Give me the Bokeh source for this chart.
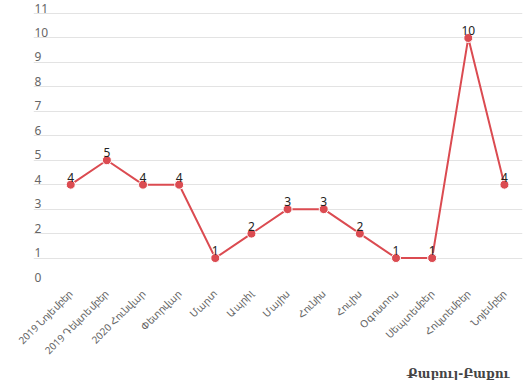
import math
from bokeh.plotting import figure
from bokeh.models import ColumnDataSource, Range1d, FixedTicker, Title
from bokeh.core.properties import value
from bokeh.embed import file_html
from bokeh.resources import INLINE

months = ["2019 Նոյեմբեր", "2019 Դեկտեմբեր", "2020 Հունվար", "Փետրվար", "Մարտ",
          "Ապրիլ", "Մայիս", "Հունիս", "Հուլիս", "Օգոստոս", "Սեպտեմբեր",
          "Հոկտեմբեր", "Նոյեմբեր"]
flights = [4, 5, 4, 4, 1, 2, 3, 3, 2, 1, 1, 10, 4]
y_ticks = list(range(0, 12))
title_text = "Քաբուլ-Բաքու"

LINE = "#db4b51"
FONT = "Noto Sans"

xs = list(range(len(months)))
src = ColumnDataSource(dict(x=xs, y=flights, lbl=[str(v) for v in flights]))

x_start, x_end = -1.03, len(months) - 0.5
p = figure(frame_width=489, frame_height=280, output_backend="svg",
           toolbar_location=None,
           x_range=Range1d(x_start, x_end), y_range=Range1d(0, 11.45),
           min_border_left=33, min_border_right=2, min_border_top=2,
           min_border_bottom=0)
p.outline_line_color = None
p.background_fill_color = "white"
p.border_fill_color = "white"

# grid
p.xgrid.grid_line_color = None
p.ygrid.grid_line_color = "#e3e3e3"
p.ygrid.grid_line_width = 1
p.yaxis.visible = False
p.yaxis.ticker = FixedTicker(ticks=y_ticks)

# x axis
p.xaxis.ticker = FixedTicker(ticks=xs)
p.xaxis.major_label_overrides = {i: m for i, m in enumerate(months)}
p.xaxis.major_label_orientation = math.pi / 4
p.xaxis.axis_line_color = None
p.xaxis.major_tick_line_color = None
p.xaxis.minor_tick_line_color = None
p.xaxis.major_label_text_font = FONT
p.xaxis.major_label_text_font_size = "10px"
p.xaxis.major_label_text_color = "#666666"
p.xaxis.major_label_standoff = 3

# y tick labels inside the plot, above grid lines
ysrc = ColumnDataSource(dict(x=[x_start] * len(y_ticks), y=y_ticks,
                             t=[str(v) for v in y_ticks]))
p.text(x="x", y="y", text="t", source=ysrc, text_font=value(FONT),
       text_font_size="12px", text_color="#666666", text_align="left",
       text_baseline="bottom", x_offset=1, y_offset=-1)

# series
p.line(x="x", y="y", source=src, line_color=LINE, line_width=2)
p.scatter(x="x", y="y", source=src, size=9, fill_color=LINE, line_color="white",
          line_width=1)
p.text(x="x", y="y", text="lbl", source=src, text_font=value(FONT),
       text_font_size="12px", text_color="#222222", text_align="center",
       text_baseline="bottom", y_offset=-3)

t = Title(text=title_text, align="right", offset=13, standoff=0,
          text_font="DejaVu Serif", text_font_size="12px",
          text_font_style="bold", text_color="#444444")
p.add_layout(t, "below")

open("out.html", "w").write(file_html(p, INLINE))
